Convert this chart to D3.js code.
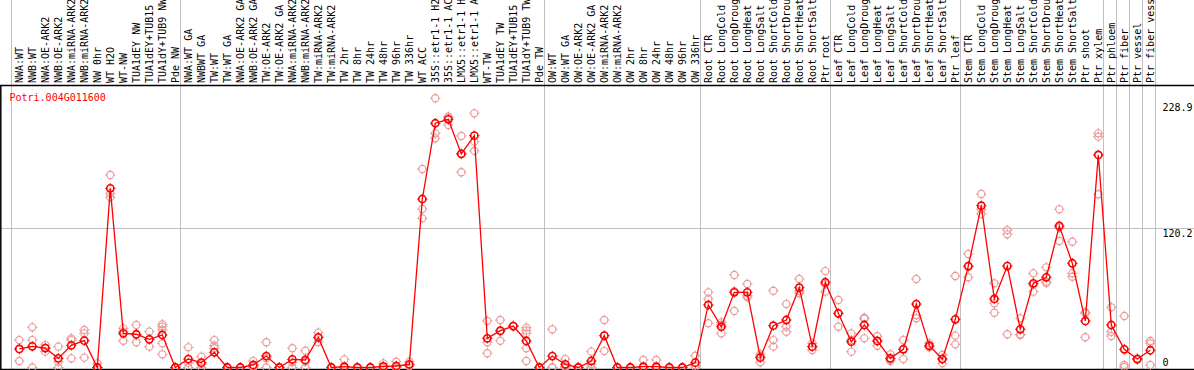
<!DOCTYPE html>
<html>
<head>
<meta charset="utf-8">
<script src="https://cdn.jsdelivr.net/npm/d3@7"></script>
<style>
  html, body { margin: 0; padding: 0; background: #fff; }
  svg { display: block; }
  text { font-family: "DejaVu Sans Mono", "Liberation Mono", monospace; }
</style>
</head>
<body>
<svg id="chart" width="1194" height="370"></svg>
<script>
const title = "Potri.004G011600";

const categories = [
  "NWA:WT", "NWB:WT", "NWA:OE-ARK2", "NWB:OE-ARK2", "NWA:miRNA-ARK2", "NWB:miRNA-ARK2",
  "NW 0hr", "WT H2O", "WT-NW", "TUA1dEY NW", "TUA1dEY+TUB15", "TUA1dY+TUB9 NW", "Pde NW",
  "NWA:WT GA", "NWBWT GA", "TW:WT", "TW:WT GA", "NWA:OE-ARK2 GA", "NWB:OE-ARK2 GA",
  "TW:OE-ARK2", "TW:OE-ARK2 GA", "NWA:miRNA-ARK2", "NWB:miRNA-ARK2", "TW:miRNA-ARK2",
  "TW:miRNA-ARK2", "TW 2hr", "TW 8hr", "TW 24hr", "TW 48hr", "TW 96hr", "TW 336hr",
  "WT ACC", "35S::etr1-1 H2", "35S::etr1-1 AC", "LMX5::etr1-1 H", "LMX5::etr1-1 A",
  "WT-TW", "TUA1dEY TW", "TUA1dEY+TUB15", "TUA1dY+TUB9 TW", "Pde TW",
  "OW:WT", "OW:WT GA", "OW:OE-ARK2", "OW:OE-ARK2 GA", "OW:miRNA-ARK2", "OW:miRNA-ARK2",
  "OW 2hr", "OW 8hr", "OW 24hr", "OW 48hr", "OW 96hr", "OW 336hr",
  "Root CTR", "Root LongCold", "Root LongDroug", "Root LongHeat", "Root LongSalt",
  "Root ShortCold", "Root ShortDrou", "Root ShortHeat", "Root ShortSalt", "Ptr root",
  "Leaf CTR", "Leaf LongCold", "Leaf LongDroug", "Leaf LongHeat", "Leaf LongSalt",
  "Leaf ShortCold", "Leaf ShortDrou", "Leaf ShortHeat", "Leaf ShortSalt", "Ptr leaf",
  "Stem CTR", "Stem LongCold", "Stem LongDroug", "Stem LongHeat", "Stem LongSalt",
  "Stem ShortCold", "Stem ShortDrou", "Stem ShortHeat", "Stem ShortSalt", "Ptr shoot",
  "Ptr xylem", "Ptr phloem", "Ptr fiber", "Ptr vessel", "Ptr fiber vess"
];

const means = [
  16.0, 18.3, 16.8, 7.9, 19.1, 23.2, 0, 154.7, 29.5, 28.7, 24.3, 28.1, 0,
  7.3, 4.2, 13.1, 0, 0, 2.2, 9.9, 0, 7.0, 6.5, 26.0, 0, 0.7, 0, 0, 1.0, 1.3, 2.7,
  145.5, 210.9, 214.3, 184.4, 200.2, 25.2, 31.8, 35.8, 22.9, 0,
  9.9, 2.7, 0, 5.6, 27.5, 0, 0, 0.7, 0.7, 0, 0, 4.2,
  54.0, 35.2, 64.9, 64.9, 8.5, 36.1, 41.0, 68.9, 18.0, 73.6,
  46.8, 22.3, 36.7, 22.9, 7.9, 15.7, 54.8, 18.8, 7.3, 41.6,
  87.6, 139.7, 59.2, 87.6, 33.0, 72.7, 77.9, 122.2, 90.0, 40.2,
  183.5, 36.7, 15.7, 7.3, 14.9
];

const replicates = [
  [23.7, 5.6, 16], [34.7, 23.7, 0], [19.4, 13.7, 16.8], [18, 0, 5], [25.2, 7.9, 23.7],
  [32.4, 29.5, 8.5], [3.6, 0, 0], [166.2, 150.4, 147], [33.8, 23.1, 31], [36.7, 21.8, 28],
  [31, 18, 24.5], [37.3, 35.3, 32.5, 20.9, 11.4], [0, 0, 0],
  [17.4, 0, 4], [9.4, 0, 3], [23.7, 16.6, 19], [0, 0, 0], [0, 0, 0], [5.6, 0, 1],
  [21.8, 0, 8], [0, 0, 0], [16.6, 0, 4.5], [14.5, 0, 5], [30.1, 26, 22], [0, 0, 0],
  [7, 0, 0], [0, 0, 0], [0, 0, 0], [3.6, 0, 0], [5, 0, 0], [5, 2, 1],
  [171.4, 136.9, 128.8], [232.5, 202.2, 197.9], [216.6, 209.4, 216], [199.9, 168.6, 184.7],
  [219.5, 195, 187], [40.2, 21.8, 12.3], [41, 23.1, 31], [36, 35.6, 35.8],
  [34.4, 29.5, 16.6, 5.6, 32], [0, 0, 0],
  [33, 0, 0], [7.3, 0, 0.8], [0.5, 0, 0], [13.7, 0, 3], [41, 14.2, 27.5], [0, 0, 0],
  [0, 0, 0], [6.5, 0, 0], [6.5, 0, 0], [0, 0, 0], [0, 0, 0], [10.2, 2, 0.5],
  [64.9, 59.2, 38.2], [39, 29.5, 37], [79.9, 48.8, 66], [72.1, 60.6, 62], [11.4, 4.5, 9.5],
  [66.3, 23.7, 18], [54.8, 35.2, 30.9], [76.4, 64.1, 66], [15.1, 18, 20.9], [83.3, 65.5, 72],
  [58.3, 35.2, 46.8], [29.5, 13.7, 23.7], [43, 25.2, 42], [22.9, 18.8, 27], [11.4, 5.6, 6.7],
  [23.7, 7.3, 16], [76.4, 45.3, 42.5], [20.9, 18, 17.5], [10.8, 3.6, 7.5], [79, 27.5, 20],
  [98, 77.9, 87], [149.8, 132.6, 136.7], [72.7, 55.4, 47.3], [118.7, 115, 28.7],
  [42.5, 28.1, 28.5], [81.3, 65.5, 71.3], [86.5, 74.1, 73], [136.6, 109.2, 120.8],
  [108.6, 81.3, 78.4], [46.8, 26.1, 47.7],
  [202.2, 199.3, 149.6], [52, 30.9, 27.2], [44.5, 2.2, 0.4], [7.3, 7.8, 6.8], [22.9, 20.9, 2.2]
];

// group boundaries: a separator is drawn after these category numbers (0 = before the first)
const groupEnds = [0, 13, 41, 53, 63, 73, 84, 85, 86, 87, 88];

const yTickValues = [228.9, 120.2, 0];
const yTickLabels = ["228.9", "120.2", "0"];
const gridValues = [120.2];

const W = 1194, H = 370;
const plotTop = 85.5, plotBottom = 369.5, plotLeft = 0.5;

const svg = d3.select("#chart");

const x = d3.scaleLinear().domain([1, categories.length]).range([19.3, 1150.3]);
const y = d3.scaleLinear().domain([0, 228.9]).range([367.5, 102.4]);

// horizontal grid
svg.append("g").selectAll("line").data(gridValues).join("line")
  .attr("x1", plotLeft).attr("x2", W)
  .attr("y1", d => Math.round(y(d)) + 0.5).attr("y2", d => Math.round(y(d)) + 0.5)
  .attr("stroke", "#c0c0c0").attr("stroke-width", 1);

// vertical group separators (full height)
svg.append("g").selectAll("line").data(groupEnds).join("line")
  .attr("x1", d => Math.round(x(d) + 4.7) + 0.5)
  .attr("x2", d => Math.round(x(d) + 4.7) + 0.5)
  .attr("y1", 0).attr("y2", H)
  .attr("stroke", "#c0c0c0").attr("stroke-width", 1);

// frame
const frame = svg.append("g").attr("stroke", "#000").attr("stroke-width", 1.5);
frame.append("line").attr("x1", 0).attr("x2", W).attr("y1", plotTop).attr("y2", plotTop);
frame.append("line").attr("x1", plotLeft + 0.3).attr("x2", plotLeft + 0.3).attr("y1", plotTop).attr("y2", H);
frame.append("line").attr("x1", 0).attr("x2", W).attr("y1", plotBottom).attr("y2", plotBottom);

// category labels
svg.append("g").selectAll("text").data(categories).join("text")
  .attr("transform", (d, i) => `translate(${x(i + 1) + 4},83) rotate(-90)`)
  .attr("font-size", 10)
  .attr("fill", "#000")
  .attr("text-anchor", "start")
  .text(d => d);

// y tick labels (right side)
svg.append("g").selectAll("text").data(yTickValues).join("text")
  .attr("x", 1162.5)
  .attr("y", (d, i) => d === 0 ? 365.5 : y(d) + 8.5)
  .attr("font-size", 10)
  .attr("fill", "#000")
  .text((d, i) => yTickLabels[i]);

// title
svg.append("text")
  .attr("x", 9.5).attr("y", 101)
  .attr("font-size", 10)
  .attr("fill", "#ff0000")
  .text(title);

// marker shape: circle with four little ticks
function marker(g, r, color, sw) {
  g.append("circle").attr("r", r).attr("fill", "none").attr("stroke", color).attr("stroke-width", sw);
  g.append("path")
    .attr("d", `M${-r - 1.6},0H${-r + 0.6}M${r - 0.6},0H${r + 1.6}M0,${-r - 1.6}V${-r + 0.6}M0,${r - 0.6}V${r + 1.6}`)
    .attr("stroke", color).attr("stroke-width", 1).attr("fill", "none");
}

// replicates
const repData = [];
replicates.forEach((arr, i) => arr.forEach(v => repData.push({ i, v })));
svg.append("g").selectAll("g").data(repData).join("g")
  .attr("transform", d => `translate(${x(d.i + 1)},${y(d.v)})`)
  .each(function () { marker(d3.select(this), 3.6, "#e99a9a", 1.1); });

// mean line
const line = d3.line().x((d, i) => x(i + 1)).y(d => y(d));
svg.append("path").datum(means)
  .attr("d", line)
  .attr("fill", "none")
  .attr("stroke", "#ff0000")
  .attr("stroke-width", 1.3);

// mean markers
svg.append("g").selectAll("g").data(means).join("g")
  .attr("transform", (d, i) => `translate(${x(i + 1)},${y(d)})`)
  .each(function () { marker(d3.select(this), 3.6, "#ff0000", 1.6); });
</script>
</body>
</html>
